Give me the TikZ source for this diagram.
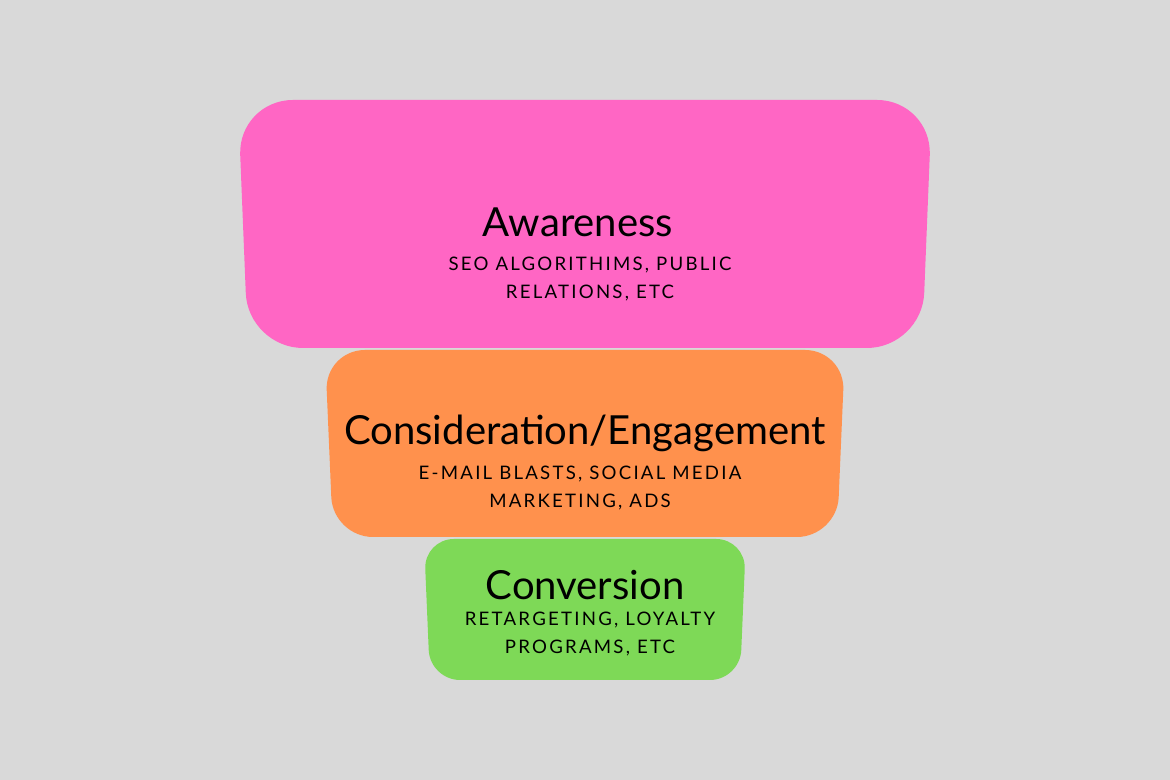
\documentclass[tikz,border=0pt]{standalone}
\usepackage{fontspec}
\setmainfont{Lato}
\newfontfamily\spacedfont[LetterSpace=12]{Lato}
\usetikzlibrary{positioning}
\definecolor{bgGray}{HTML}{D9D9D9}
\definecolor{aware}{HTML}{FF66C4}
\definecolor{consid}{HTML}{FF914D}
\definecolor{convert}{HTML}{7ED957}
\tikzset{
  title/.style={font=\fontsize{11.4}{14}\selectfont,inner sep=0pt},
  detail/.style={font=\spacedfont\fontsize{5.3}{8.2}\selectfont,align=center,inner sep=0pt}
}
\begin{document}
\begin{tikzpicture}[x=0.1mm,y=-0.1mm]

\fill[bgGray] (0,0) rectangle (1170,780);
\useasboundingbox (0,0) rectangle (1170,780);

% funnel layers
\fill[aware,rounded corners=5.5mm] (238,100)--(932,100)--(922,348)--(248,348)--cycle;
\fill[consid,rounded corners=4mm] (325,350)--(845,350)--(837,537)--(333,537)--cycle;
\fill[convert,rounded corners=3mm] (424,539)--(746,539)--(740,680)--(430,680)--cycle;

% labels
\node[title] (aw) at (578,222) {Awareness};
\node[detail] (aw-d) at (590,279) {SEO ALGORITHIMS, PUBLIC\\RELATIONS, ETC};

\node[title] (co) at (585,433) {Consideration/Engagement};
\node[detail] (co-d) at (580,488) {E-MAIL BLASTS, SOCIAL MEDIA\\MARKETING, ADS};

\node[title] (cv) at (585,585) {Conversion};
\node[detail] (cv-d) at (590,634) {RETARGETING, LOYALTY\\PROGRAMS, ETC};
\end{tikzpicture}
\end{document}
